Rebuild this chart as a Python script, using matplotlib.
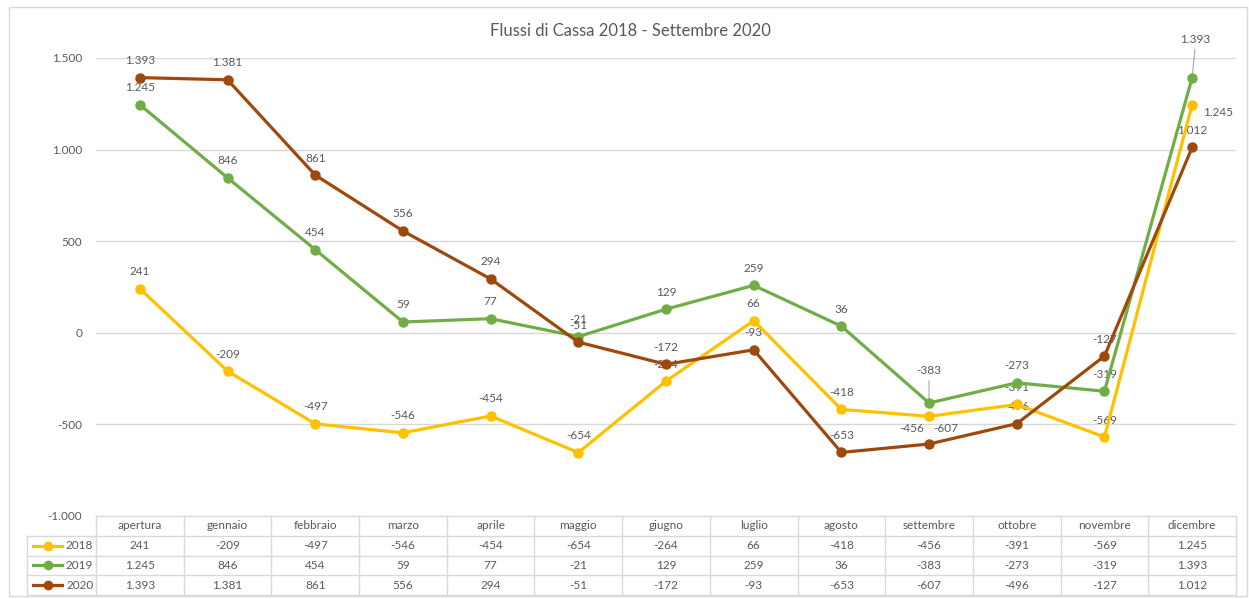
import matplotlib.pyplot as plt
from matplotlib.patches import Rectangle
from matplotlib.lines import Line2D

# dati
mesi = ['apertura', 'gennaio', 'febbraio', 'marzo', 'aprile', 'maggio', 'giugno',
        'luglio', 'agosto', 'settembre', 'ottobre', 'novembre', 'dicembre']
anni = ['2018', '2019', '2020']
v2018 = [241, -209, -497, -546, -454, -654, -264, 66, -418, -456, -391, -569, 1245]
v2019 = [1245, 846, 454, 59, 77, -21, 129, 259, 36, -383, -273, -319, 1393]
v2020 = [1393, 1381, 861, 556, 294, -51, -172, -93, -653, -607, -496, -127, 1012]
serie = [v2018, v2019, v2020]
colori = ['#FFC000', '#70AD47', '#9E480E']
yticks = [-1000, -500, 0, 500, 1000, 1500]

plt.rcParams['font.family'] = ['Lato', 'DejaVu Sans']
GRIGIO = '#595959'
GRID = '#D9D9D9'


def fmt(v):
    return f'{v:,}'.replace(',', '.')


W, H = 1249, 599
fig = plt.figure(figsize=(W / 100, H / 100), dpi=100)
fig.patches.append(Rectangle((9 / W, 3 / H), 1238 / W, 589 / H, transform=fig.transFigure,
                             fill=False, edgecolor=GRID, linewidth=1))

ax = fig.add_axes([96 / W, 1 - 516 / H, 1140 / W, 458 / H])
ax.set_xlim(-0.5, 12.5)
ax.set_ylim(-1000, 1500)
for s in ax.spines.values():
    s.set_visible(False)
ax.set_xticks([])
ax.set_yticks(yticks)
ax.set_yticklabels([fmt(t) for t in yticks], color=GRIGIO, fontsize=8.5)
ax.tick_params(axis='y', length=0, pad=10)
for t in yticks[1:]:
    ax.axhline(t, color=GRID, linewidth=1, zorder=1)

x = list(range(len(mesi)))
for vals, c in zip(serie, colori):
    ax.plot(x, vals, color=c, linewidth=2.3, marker='o', markersize=6.5, zorder=3)

# etichette dati (offset in pixel, alcune spostate come nell'originale)
spost = {(0, 9): (-17, -12), (0, 12): (26, -8), (1, 9): (0, 32), (1, 12): (3, 38),
         (2, 9): (17, 16)}
guida = {(1, 9), (1, 12)}
for si, vals in enumerate(serie):
    for i, v in enumerate(vals):
        dx, dy = spost.get((si, i), (0, 17))
        if (si, i) in guida:
            ax.annotate('', xy=(i, v), xytext=(dx * 0.72, (dy - 7) * 0.72),
                        textcoords='offset points',
                        arrowprops=dict(arrowstyle='-', color='#A6A6A6', lw=0.8), zorder=2)
        ax.annotate(fmt(v), xy=(i, v), xytext=(dx * 0.72, dy * 0.72), textcoords='offset points',
                    ha='center', va='center', fontsize=8.5, color=GRIGIO, zorder=2,
                    annotation_clip=False)

fig.text(630 / W, 1 - 31 / H, 'Flussi di Cassa 2018 - Settembre 2020', ha='center', va='center',
         fontsize=12, color=GRIGIO)

# tabella dati
tb = fig.add_axes([96 / W, 1 - 595 / H, 1140 / W, 79 / H])
tb.set_xlim(-0.5, 12.5)
tb.set_ylim(4, 0)
tb.axis('off')
xl = -1.287
kw = dict(color=GRID, linewidth=1, clip_on=False)
tb.plot([-0.5, 12.5], [0, 0], **kw)
for r in range(1, 5):
    tb.plot([xl, 12.5], [r, r], **kw)
tb.plot([xl, xl], [1, 4], **kw)
for k in range(14):
    tb.plot([k - 0.5, k - 0.5], [0, 4], **kw)
for i, m in enumerate(mesi):
    tb.text(i, 0.5, m, ha='center', va='center', fontsize=8.5, color=GRIGIO)
for r, (anno, vals, c) in enumerate(zip(anni, serie, colori), start=1):
    for i, v in enumerate(vals):
        tb.text(i, r + 0.5, fmt(v), ha='center', va='center', fontsize=8.5, color=GRIGIO)
    tb.add_line(Line2D([xl + 0.07, xl + 0.4], [r + 0.5, r + 0.5], color=c, linewidth=2.3,
                       clip_on=False))
    tb.plot([xl + 0.235], [r + 0.5], marker='o', color=c, markersize=6, clip_on=False)
    tb.text(-0.53, r + 0.5, anno, ha='right', va='center', fontsize=8.5, color=GRIGIO)

fig.savefig('out.png', dpi=100)
